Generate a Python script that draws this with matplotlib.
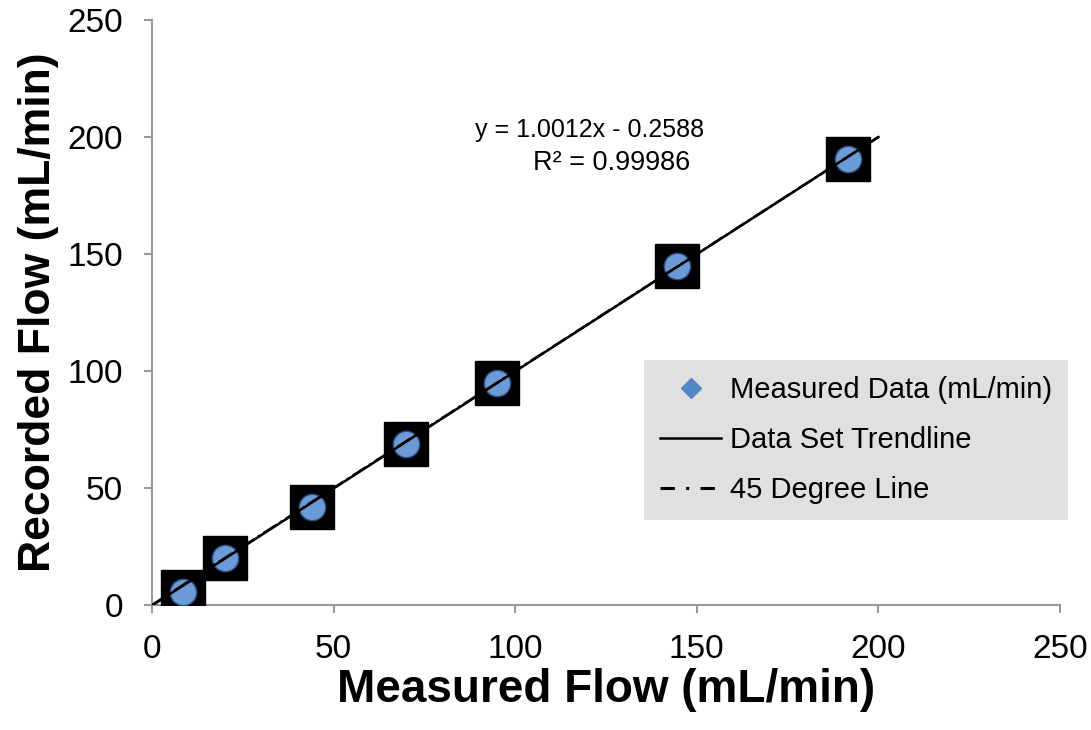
import numpy as np
import matplotlib.pyplot as plt

plt.rcParams['font.family'] = ['Liberation Sans', 'DejaVu Sans']

# data
measured = [8.5, 20, 44, 70, 95, 144.5, 191.5]
recorded = [5.6, 20, 42, 69, 95, 145, 190.5]
slope = 1.0012
intercept = -0.2588
r2 = 0.99986
line_range = [0, 200]

fig = plt.figure(figsize=(10.91, 7.30), dpi=100)
ax = fig.add_axes([0.1393, 0.1712, 0.8323, 0.8014])

xl = np.array(line_range)
ax.plot(measured, recorded, 's', color='black', markersize=31, zorder=3)
ax.plot(measured, recorded, 'o', color='#6a9bd6', markeredgecolor='#2a4d80',
        markeredgewidth=1.0, markersize=19, zorder=4)
ax.plot(xl, slope * xl + intercept, '-', color='black', lw=1.8, zorder=5)
ax.plot(xl, xl, '-.', color='black', lw=1.8, zorder=5)

# legend handles
h1, = ax.plot([], [], 'D', color='#4f86c6', markersize=10, label='Measured Data (mL/min)')
h2, = ax.plot([], [], '-', color='black', lw=1.8, label='Data Set Trendline')
h3, = ax.plot([], [], color='black', lw=2.2, linestyle=(0, (4.7, 3.7, 1, 3.7)),
              label='45 Degree Line')
leg = ax.legend(handles=[h1, h2, h3], loc='lower right', bbox_to_anchor=(1.009, 0.145),
                fontsize=21, frameon=True, facecolor='#e0e0e0', edgecolor='none',
                fancybox=False, framealpha=1, labelspacing=0.75, handlelength=2.1,
                handletextpad=0.3, borderpad=0.55, borderaxespad=0)

ax.text(120.5, 203, f'y = {slope:.4f}x - {abs(intercept):.4f}', ha='center', va='center',
        fontsize=18)
ax.text(126.5, 189, f'R² = {r2}', ha='center', va='center', fontsize=19.5)

ax.set_xlim(0, 250)
ax.set_ylim(0, 250)
ax.set_xticks(range(0, 251, 50))
ax.set_yticks(range(0, 251, 50))
ax.tick_params(labelsize=24, direction='out', length=6, color='#999999', width=1.5)
ax.tick_params(axis='y', pad=15)
ax.tick_params(axis='x', pad=15)
for s in ['top', 'right']:
    ax.spines[s].set_visible(False)
for s in ['left', 'bottom']:
    ax.spines[s].set_color('#999999')
    ax.spines[s].set_linewidth(1.5)

ax.set_xlabel('Measured Flow (mL/min)', fontsize=33, fontweight='bold', labelpad=2)
ax.set_ylabel('Recorded Flow (mL/min)', fontsize=32, fontweight='bold', labelpad=6)

plt.savefig('out.png', dpi=100)
